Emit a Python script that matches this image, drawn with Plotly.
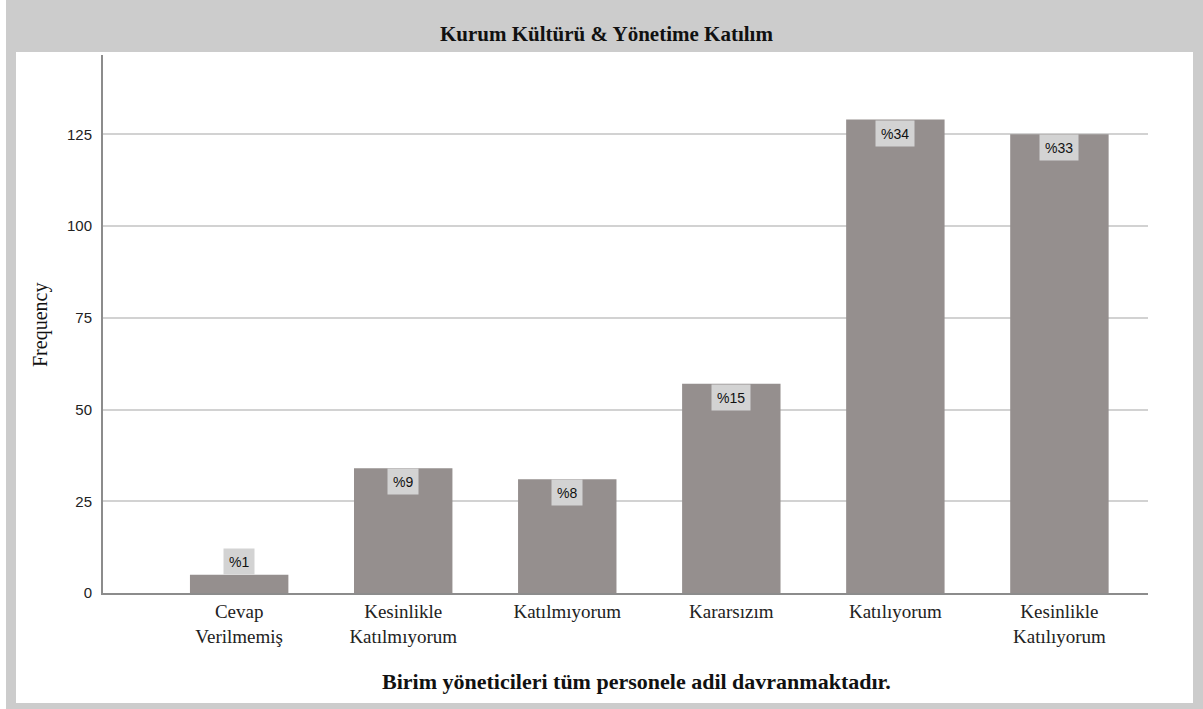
import plotly.graph_objects as go

# ---------------- data ----------------
categories = ["Cevap<br>Verilmemiş", "Kesinlikle<br>Katılmıyorum", "Katılmıyorum",
              "Kararsızım", "Katılıyorum", "Kesinlikle<br>Katılıyorum"]
frequencies = [5, 34, 31, 57, 129, 125]
percent_labels = ["%1", "%9", "%8", "%15", "%34", "%33"]
y_ticks = [0, 25, 50, 75, 100, 125]

chart_title = "Kurum Kültürü &amp; Yönetime Katılım"
x_title = "Birim yöneticileri tüm personele adil davranmaktadır."
y_title = "Frequency"

# ---------------- layout geometry (pixels) ----------------
W, H = 1203, 709
PL, PR, PT, PB = 103, 1148, 55, 593     # plot area
Y_MAX = 146.6
X_RANGE = [-0.83, 5.54]


def px_x(px):
    return (px - PL) / (PR - PL)


def px_y(py):
    return (PB - py) / (PB - PT)


BAR = "#958f8e"
LABEL_BG = "#d3d3d3"
SERIF = "Liberation Serif"
SANS = "Liberation Sans"

xs = list(range(len(categories)))

fig = go.Figure()
fig.add_trace(go.Bar(
    x=xs, y=frequencies, width=0.6,
    marker=dict(color=BAR, line=dict(width=0)),
    hoverinfo="skip", showlegend=False,
))

px_per_unit = (PB - PT) / Y_MAX
annotations = []
for x, v, lab in zip(xs, frequencies, percent_labels):
    fits = v * px_per_unit >= 26
    annotations.append(dict(
        x=x, y=v, xref="x", yref="y", text=lab, showarrow=False,
        yanchor="top" if fits else "bottom",
        bgcolor=LABEL_BG, borderpad=5, height=15,
        font=dict(family=SANS, size=14, color="#111"),
    ))

# title
annotations.append(dict(
    x=px_x(606), y=px_y(34), xref="paper", yref="paper", text="<b>" + chart_title + "</b>",
    showarrow=False, xanchor="center", yanchor="middle",
    font=dict(family=SERIF, size=21, color="#111"),
))
# x title
annotations.append(dict(
    x=px_x(636), y=px_y(681), xref="paper", yref="paper", text="<b>" + x_title + "</b>",
    showarrow=False, xanchor="center", yanchor="middle",
    font=dict(family=SERIF, size=22, color="#111"),
))
# y title
annotations.append(dict(
    x=px_x(40), y=px_y(325), xref="paper", yref="paper", text=y_title,
    showarrow=False, xanchor="center", yanchor="middle", textangle=-90,
    font=dict(family=SERIF, size=20, color="#111"),
))

shapes = [
    # outer grey frame
    dict(type="rect", xref="paper", yref="paper", layer="below",
         x0=px_x(6), x1=px_x(1203), y0=px_y(709), y1=px_y(0),
         fillcolor="#cccccc", line=dict(width=0)),
    # inner white panel
    dict(type="rect", xref="paper", yref="paper", layer="below",
         x0=px_x(16), x1=px_x(1193), y0=px_y(703), y1=px_y(52),
         fillcolor="#ffffff", line=dict(width=0)),
]

fig.update_layout(
    width=W, height=H, autosize=False,
    margin=dict(l=PL, r=W - PR, t=PT, b=H - PB, pad=0),
    paper_bgcolor="#ffffff", plot_bgcolor="rgba(0,0,0,0)",
    font=dict(family=SERIF),
    annotations=annotations, shapes=shapes,
    xaxis=dict(
        range=X_RANGE, tickvals=xs, ticktext=categories,
        showline=True, linecolor="#8c8c8c", linewidth=2,
        showgrid=False, zeroline=False, ticks="",
        tickfont=dict(family=SERIF, size=19, color="#222"),
        fixedrange=True,
    ),
    yaxis=dict(
        range=[0, Y_MAX], tickvals=y_ticks,
        showline=True, linecolor="#8c8c8c", linewidth=2,
        showgrid=True, gridcolor="#d2d2d2", gridwidth=1.5,
        zeroline=False, ticks="", ticklabelstandoff=6,
        tickfont=dict(family=SANS, size=15, color="#222"),
        fixedrange=True,
    ),
)

fig.write_html("out.html", config={"displayModeBar": False},
               post_script="document.body.style.margin='0';")
